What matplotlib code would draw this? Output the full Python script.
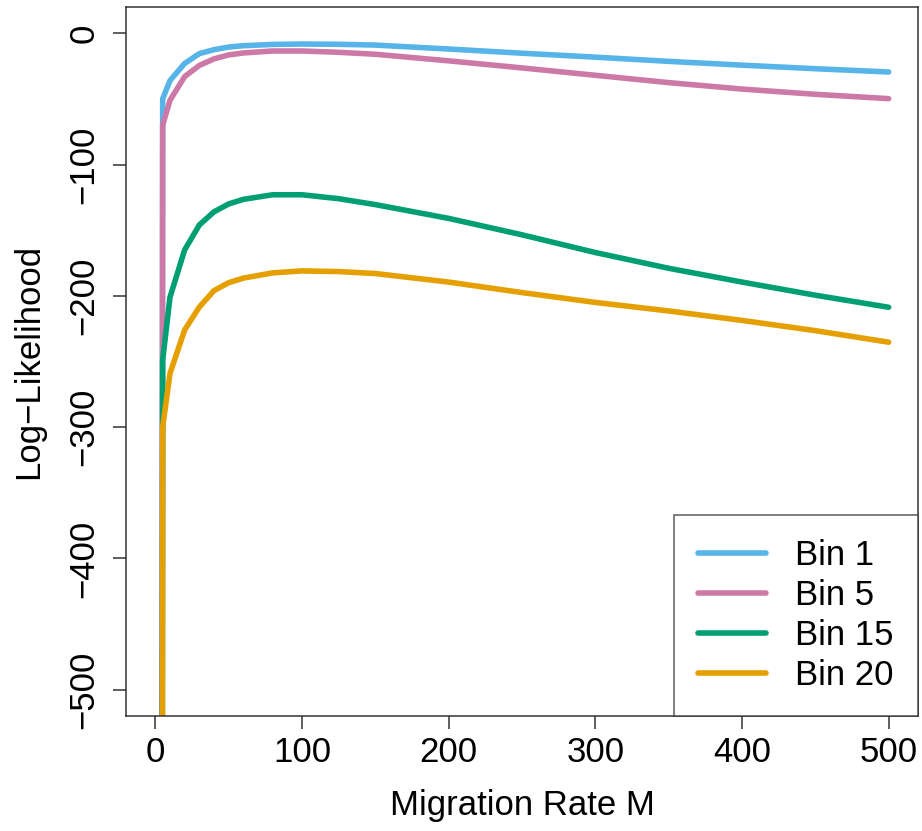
import matplotlib
matplotlib.use("Agg")
import matplotlib.pyplot as plt

plt.rcParams['font.family'] = ['Liberation Sans', 'DejaVu Sans']

# Migration rate grid
M = [1, 5, 10, 20, 30, 40, 50, 60, 80, 100, 125, 150, 200, 250, 300, 350, 400, 450, 500]

bin1 = [-5000, -50, -36, -23, -15.5, -12.5, -10.5, -9.5, -8.5, -8.2, -8.4, -9,
        -12, -15.2, -18.2, -21.4, -24.3, -27, -29.5]
bin5 = [-5000, -70, -51, -33, -24.5, -19.5, -16.5, -15, -13.5, -13.5, -14.5, -16,
        -21, -26.4, -32, -37.6, -42.5, -46.5, -49.8]
bin15 = [-6000, -249, -201, -165, -146, -136, -130, -126.5, -123, -123, -126, -130.5,
         -141, -153.5, -167, -179, -189.5, -199.5, -208.7]
bin20 = [-7000, -300, -259, -226, -208.5, -196, -190, -186.5, -182.5, -181, -181.5, -183,
         -189.5, -197.5, -205, -211.5, -218.7, -226.5, -235.3]

series = [("Bin 1", bin1, "#56B4E9"),
          ("Bin 5", bin5, "#CC79A7"),
          ("Bin 15", bin15, "#009E73"),
          ("Bin 20", bin20, "#E69F00")]

xticks = [0, 100, 200, 300, 400, 500]
yticks = [0, -100, -200, -300, -400, -500]

fig = plt.figure(figsize=(9.22, 8.31), dpi=100)
ax = fig.add_axes([126/922, 1 - 716/831, (918 - 126)/922, (716 - 7)/831])

for label, vals, col in series:
    ax.plot(M, vals, color=col, lw=4, label=label, solid_capstyle='round',
            solid_joinstyle='round')

ax.set_xlim(-20, 520)
ax.set_ylim(-520, 20)
ax.set_xticks(xticks)
ax.set_yticks(yticks)
ax.set_xticklabels([str(t) for t in xticks])
ax.set_yticklabels([str(t).replace('-', '\u2212') for t in yticks], rotation=90,
                   va='center')

for s in ax.spines.values():
    s.set_color('#333333')
    s.set_linewidth(1.1)
ax.tick_params(axis='both', length=9.5, width=1.1, color='#333333',
               labelsize=25, labelcolor='black')
ax.tick_params(axis='x', pad=5)
ax.tick_params(axis='y', pad=9)

ax.set_xlabel("Migration Rate M", fontsize=25, labelpad=14)
ax.set_ylabel("Log\u2212Likelihood", fontsize=25, labelpad=16)

leg = ax.legend(loc='lower right', fontsize=25, frameon=True, fancybox=False,
                borderaxespad=0, handlelength=1.95, handletextpad=0.85,
                labelspacing=0.2, borderpad=0.7)
leg.get_frame().set_edgecolor('#333333')
leg.get_frame().set_linewidth(1.1)
for h in leg.get_lines():
    h.set_solid_capstyle('round')

fig.savefig("out.png", dpi=100)
